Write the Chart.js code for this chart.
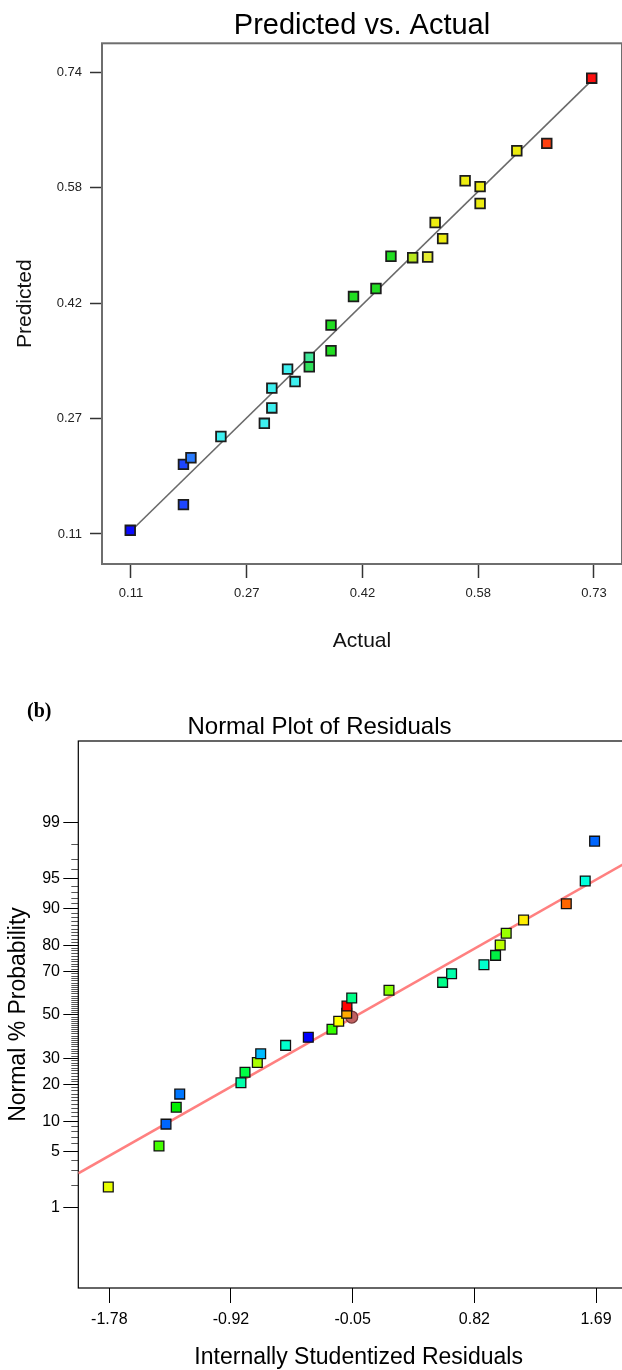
<!DOCTYPE html>
<html>
<head>
<meta charset="utf-8">
<script src="https://cdn.jsdelivr.net/npm/chart.js@4.4.0/dist/chart.umd.min.js"></script>
<style>
  html, body { margin:0; padding:0; background:#fff; }
  body { width:622px; height:1370px; overflow:hidden; position:relative; }
  #wrapA { position:absolute; left:0; top:0; }
  #wrapB { position:absolute; left:0; top:680px; }
  #lblB { position:absolute; left:27px; top:700px; font:bold 20px 'Liberation Serif', 'Times New Roman', serif; line-height:20px; color:#000; z-index:2; }
</style>
</head>
<body>
<div id="wrapA"><canvas id="chartA" width="622" height="680"></canvas></div>
<div id="wrapB"><canvas id="chartB" width="640" height="690"></canvas></div>
<div id="lblB">(b)</div>
<script>
// ---------- Chart (a): Predicted vs. Actual ----------
const actual = [0.111,0.182,0.182,0.192,0.232,0.290,0.300,0.300,0.321,0.331,0.350,0.350,0.379,0.379,0.409,0.439,0.459,0.488,0.508,0.528,0.518,0.558,0.578,0.578,0.627,0.667,0.727];
const predicted = [0.113,0.148,0.203,0.212,0.241,0.259,0.280,0.307,0.333,0.316,0.349,0.336,0.393,0.358,0.432,0.443,0.487,0.485,0.486,0.511,0.533,0.590,0.582,0.559,0.631,0.641,0.730];
const colorsA = ['#0a0aff','#1e46ff','#1e46ff','#2a7cff','#3ef0f0','#3ef0f0','#3ef0f0','#3ef0f0','#3ef0f0','#3ef0f0','#3ee89a','#2ee05a','#22dd22','#22dd22','#22dd22','#22dd22','#22dd22','#b8e81e','#e4ec30','#ecec10','#ecec10','#ecec10','#ecec10','#ecec10','#ecec10','#ff4010','#ff1010'];
const fitLineA = [0.111, 0.727];
const xTicksA = [0.112, 0.2665, 0.421, 0.5755, 0.730];
const xTickLabelsA = ['0.11','0.27','0.42','0.58','0.73'];
const yTicksA = [0.108, 0.2655, 0.423, 0.5805, 0.738];
const yTickLabelsA = ['0.11','0.27','0.42','0.58','0.74'];

// ---------- Chart (b): Normal Plot of Residuals ----------
const residuals = [-1.792,-1.430,-1.380,-1.307,-1.282,-0.845,-0.816,-0.728,-0.704,-0.526,-0.364,-0.195,-0.147,-0.090,-0.088,-0.054,0.212,0.595,0.659,0.890,0.973,1.006,1.049,1.173,1.478,1.613,1.680];
const probability = [1.9,5.7,9.4,13.3,17.0,20.7,24.5,28.3,32.0,35.7,39.4,43.2,47.0,50.8,54.3,58.1,61.7,65.3,69.1,72.8,76.4,80.1,83.8,87.4,91.0,94.7,98.2];
const colorsB = ['#e8ff00','#44ff00','#0066ff','#00ee00','#0077ff','#00ffaa','#00ff44','#aaff00','#00bbff','#00ffcc','#0000ff','#33ff00','#ffff00','#ffaa00','#ff0000','#00ff88','#88ff00','#00ff88','#00ffaa','#00ffcc','#00ee44','#bbff00','#99ff00','#ffee00','#ff6600','#00ffdd','#0066ff'];
const markedResidual = [-0.054];
const markedProbability = [49.0];
const fitResidual = [-2.006, 1.997];
const fitProbability = [2.81, 97.29];
const xTicksB = [-1.7849, -0.9161, -0.0473, 0.8215, 1.6903];
const xTickLabelsB = ['-1.78','-0.92','-0.05','0.82','1.69'];
const majorProbTicks = [1,5,10,20,30,50,70,80,90,95,99];
const majorProbLabels = ['1','5','10','20','30','50','70','80','90','95','99'];
const probTicks = []; for (let p = 1; p <= 99; p++) probTicks.push(p);

function probit(p){
  const a=[-3.969683028665376e+01,2.209460984245205e+02,-2.759285104469687e+02,1.383577518672690e+02,-3.066479806614716e+01,2.506628277459239e+00];
  const b=[-5.447609879822406e+01,1.615858368580409e+02,-1.556989798598866e+02,6.680131188771972e+01,-1.328068155288572e+01];
  const c=[-7.784894002430293e-03,-3.223964580411365e-01,-2.400758277161838e+00,-2.549732539343734e+00,4.374664141464968e+00,2.938163982698783e+00];
  const d=[7.784695709041462e-03,3.224671290700398e-01,2.445134137142996e+00,3.754408661907416e+00];
  const pl=0.02425, ph=1-pl; let q,r;
  if (p < pl){ q=Math.sqrt(-2*Math.log(p)); return (((((c[0]*q+c[1])*q+c[2])*q+c[3])*q+c[4])*q+c[5])/((((d[0]*q+d[1])*q+d[2])*q+d[3])*q+1); }
  if (p > ph){ q=Math.sqrt(-2*Math.log(1-p)); return -(((((c[0]*q+c[1])*q+c[2])*q+c[3])*q+c[4])*q+c[5])/((((d[0]*q+d[1])*q+d[2])*q+d[3])*q+1); }
  q=p-0.5; r=q*q;
  return (((((a[0]*r+a[1])*r+a[2])*r+a[3])*r+a[4])*r+a[5])*q/(((((b[0]*r+b[1])*r+b[2])*r+b[3])*r+b[4])*r+1);
}

const FONT = "'Liberation Sans', Arial, Helvetica, sans-serif";
Chart.defaults.font.family = FONT;
Chart.defaults.color = '#000';

function framePlugin(color, width){
  return {
    id: 'frame',
    beforeDatasetsDraw(chart){
      const {ctx, chartArea: a} = chart;
      ctx.save();
      ctx.strokeStyle = color; ctx.lineWidth = width;
      ctx.strokeRect(a.left, a.top, a.right - a.left, a.bottom - a.top);
      ctx.restore();
    }
  };
}

new Chart(document.getElementById('chartA'), {
  type: 'scatter',
  data: {
    datasets: [
      {
        data: actual.map((x, i) => ({x, y: predicted[i]})),
        pointStyle: 'rect', pointRadius: 6.8,
        pointBackgroundColor: colorsA, pointBorderColor: '#1c1c1c', pointBorderWidth: 1.8
      },
      {
        type: 'line',
        data: fitLineA.map(v => ({x: v, y: v})),
        borderColor: '#6a6a6a', borderWidth: 1.6, pointRadius: 0, fill: false
      }
    ]
  },
  options: {
    responsive: false, animation: false, events: [],
    layout: { padding: 0, autoPadding: false },
    plugins: {
      legend: { display: false }, tooltip: { enabled: false },
      title: { display: true, text: 'Predicted vs. Actual', fullSize: false, color: '#000',
        font: { size: 29, weight: 'normal', lineHeight: 1 }, padding: { top: 11, bottom: 3.3 } }
    },
    scales: {
      x: {
        type: 'linear', min: 0.0733, max: 0.7674,
        afterBuildTicks: s => { s.ticks = xTicksA.map(v => ({value: v})); },
        afterFit: s => { s.height = 116; },
        grid: { display: true, drawOnChartArea: false, drawTicks: true, tickLength: 14, tickColor: '#333', tickWidth: 1.5 },
        border: { display: false },
        ticks: { autoSkip: false, maxRotation: 0, minRotation: 0, padding: 7.8, color: '#222', font: { size: 13 },
          callback: (v, i) => xTickLabelsA[i] },
        title: { display: true, text: 'Actual', color: '#111', font: { size: 21, lineHeight: 1 }, padding: { top: 0, bottom: 28.3 } }
      },
      y: {
        type: 'linear', min: 0.067, max: 0.7776,
        afterBuildTicks: s => { s.ticks = yTicksA.map(v => ({value: v})); },
        afterFit: s => { s.width = 102; },
        grid: { display: true, drawOnChartArea: false, drawTicks: true, tickLength: 12, tickColor: '#333', tickWidth: 1.5 },
        border: { display: false },
        ticks: { autoSkip: false, padding: 8, color: '#222', font: { size: 13 },
          callback: (v, i) => yTickLabelsA[i] },
        title: { display: true, text: 'Predicted', color: '#111', font: { size: 21, lineHeight: 1 }, padding: { top: 14.5, bottom: 0 } }
      }
    }
  },
  plugins: [framePlugin('#6e6e6e', 2)]
});

new Chart(document.getElementById('chartB'), {
  type: 'scatter',
  data: {
    datasets: [
      {
        data: residuals.map((x, i) => ({x, y: probit(probability[i] / 100)})),
        pointStyle: 'rect', pointRadius: 6.9,
        pointBackgroundColor: colorsB, pointBorderColor: '#111', pointBorderWidth: 1.3
      },
      {
        data: markedResidual.map((x, i) => ({x, y: probit(markedProbability[i] / 100)})),
        pointStyle: 'circle', pointRadius: 6,
        pointBackgroundColor: '#c06060', pointBorderColor: '#7a3a3a', pointBorderWidth: 1.3
      },
      {
        type: 'line',
        data: fitResidual.map((x, i) => ({x, y: probit(fitProbability[i] / 100)})),
        borderColor: '#ff8080', borderWidth: 2.5, pointRadius: 0, fill: false
      }
    ]
  },
  options: {
    responsive: false, animation: false, events: [],
    layout: { padding: { top: 31, left: 0, right: 1, bottom: 0 }, autoPadding: false },
    plugins: {
      legend: { display: false }, tooltip: { enabled: false },
      title: { display: true, text: 'Normal Plot of Residuals', color: '#000',
        font: { size: 24, weight: 'normal', lineHeight: 1 }, padding: { top: 4, bottom: 2 } }
    },
    scales: {
      x: {
        type: 'linear', min: -2.0062, max: 1.997,
        afterBuildTicks: s => { s.ticks = xTicksB.map(v => ({value: v})); },
        afterFit: s => { s.height = 82; },
        grid: { display: true, drawOnChartArea: false, drawTicks: true, tickLength: 15, tickColor: '#000', tickWidth: 1 },
        border: { display: false },
        ticks: { autoSkip: false, maxRotation: 0, minRotation: 0, padding: 6.7, color: '#000', font: { size: 16 },
          callback: (v, i) => xTickLabelsB[i] },
        title: { display: true, text: 'Internally Studentized Residuals', color: '#000', font: { size: 23, lineHeight: 1 }, padding: { top: 0, bottom: 0.5 } }
      },
      y: {
        type: 'linear', min: -3.293, max: 3.305,
        afterBuildTicks: s => { s.ticks = probTicks.map(p => ({value: probit(p / 100)})); },
        afterFit: s => { s.width = 78.3; },
        grid: {
          display: true, drawOnChartArea: false, drawTicks: true, tickLength: 15, tickWidth: 1,
          tickColor: ctx => majorProbTicks.includes(probTicks[ctx.index]) ? '#000' : '#555',
          tickBorderDash: ctx => majorProbTicks.includes(probTicks[ctx.index]) ? [] : [0, 8, 7, 60]
        },
        border: { display: false },
        ticks: { autoSkip: false, padding: 3.3, color: '#000', font: { size: 16 },
          callback: (v, i) => { const k = majorProbTicks.indexOf(probTicks[i]); return k >= 0 ? majorProbLabels[k] : ''; } },
        title: { display: true, text: 'Normal % Probability', color: '#000', font: { size: 23, lineHeight: 1 }, padding: { top: 7.5, bottom: 0 } }
      }
    }
  },
  plugins: [framePlugin('#000', 1.2)]
});
</script>
</body>
</html>
